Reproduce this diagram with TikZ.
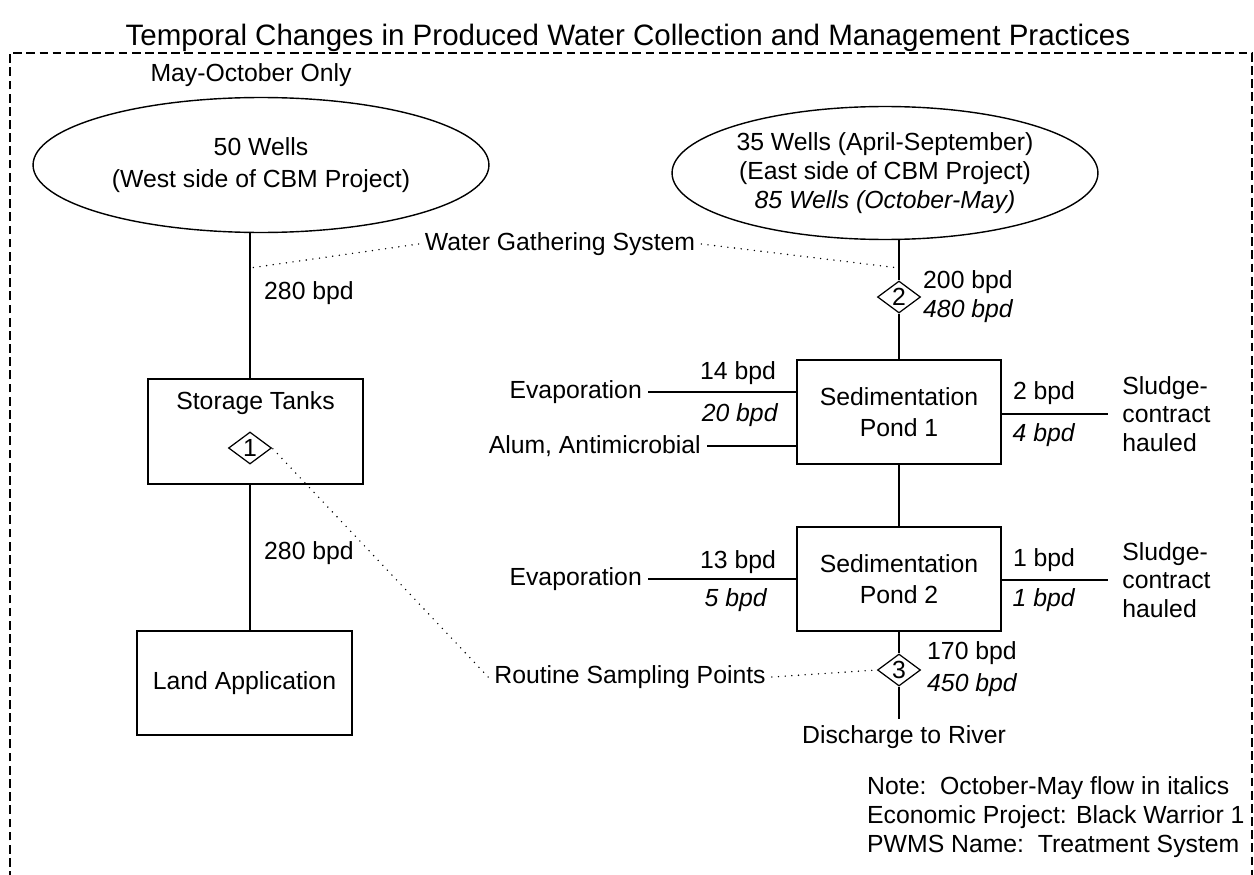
\documentclass[tikz,border=0pt]{standalone}
\usepackage{fontspec}
\setmainfont{Liberation Sans}
\usetikzlibrary{shapes.geometric}

\begin{document}
\begin{tikzpicture}[x=0.02cm,y=-0.02cm,font=\fontsize{14.1}{16.3}\selectfont,
  box/.style={draw,line width=0.8pt,inner sep=0pt,align=center},
  well/.style={draw,ellipse,line width=0.8pt,inner sep=0pt,align=center},
  spot/.style={draw,diamond,line width=0.7pt,inner sep=0pt,aspect=1.35,minimum width=0.86cm,minimum height=0.64cm},
  flow/.style={line width=1.1pt},
  tie/.style={line width=0.9pt,dash pattern=on 0pt off 3.8pt,line cap=round},
  frame/.style={line width=1pt,dash pattern=on 5pt off 2.5pt}]
\useasboundingbox (0,0) rectangle (1254,875);
\node[font=\fontsize{16.8}{19}\selectfont] (title) at (628,38) {Temporal Changes in Produced Water Collection and Management Practices};
\coordinate (fbl) at (10,880);
\coordinate (ftl) at (10,53);
\coordinate (ftr) at (1252,53);
\coordinate (fbr) at (1252,880);
\draw[frame] (fbl) -- (ftl) -- (ftr) -- (fbr);
\node (season) at (251,75) {May-October Only};
\node[well,minimum width=9.12cm,minimum height=2.7cm] (wwest) at (261,165) {50 Wells\\[2pt](West side of CBM Project)};
\node[well,minimum width=8.52cm,minimum height=2.66cm] (weast) at (885,173) {35 Wells (April-September)\\(East side of CBM Project)\\\textit{85 Wells (October-May)}};
\node[box,minimum width=4.3cm,minimum height=2.1cm] (tanks) at (255.5,431.5) {};
\node (tankstxt) at (255.5,403) {Storage Tanks};
\node[spot] (s1) at (250,448) {1};
\node[box,minimum width=4.3cm,minimum height=2.08cm] (land) at (244.5,683) {Land Application};
\node[box,minimum width=4.08cm,minimum height=2.08cm] (pond1) at (899,412) {Sedimentation\\[1pt]Pond 1};
\node[box,minimum width=4.08cm,minimum height=2.08cm] (pond2) at (899,579) {Sedimentation\\[1pt]Pond 2};
\node[spot] (s2) at (899,297) {2};
\node[spot] (s3) at (899,670) {3};
\node (river) at (904,737) {Discharge to River};
\draw[flow] (wwest.south -| s1) -- (tanks.north -| s1);
\draw[flow] (tanks.south -| s1) -- (land.north -| s1);
\draw[flow] (weast.south -| s2) -- (s2.north);
\draw[flow] (s2.south) -- (pond1.north);
\draw[flow] (pond1.south) -- (pond2.north);
\draw[flow] (pond2.south) -- (s3.north);
\draw[flow] (s3.south) -- (s3 |- river.north);
\node[anchor=west] (q1) at (258,293) {280 bpd};
\node[anchor=west] (q2) at (258,553) {280 bpd};
\node[anchor=west] (q3) at (917,282) {200 bpd};
\node[anchor=west] (q4) at (917,311) {\textit{480 bpd}};
\node[anchor=west] (q5) at (921,653) {170 bpd};
\node[anchor=west] (q6) at (921,685) {\textit{450 bpd}};
\node[anchor=east] (evap1) at (648,392) {Evaporation};
\node[anchor=east] (alum) at (707,446) {Alum, Antimicrobial};
\node[anchor=east] (evap2) at (648,579) {Evaporation};
\draw[flow] (evap1.east) -- (evap1.east -| pond1.west);
\draw[flow] (alum.east) -- (alum.east -| pond1.west);
\draw[flow] (evap2.east) -- (evap2.east -| pond2.west);
\node (in1a) at (738,373) {14 bpd};
\node (in1b) at (740,415) {\textit{20 bpd}};
\node (in2a) at (738,562) {13 bpd};
\node (in2b) at (736,600) {\textit{5 bpd}};
\node[anchor=west,align=left,inner sep=8pt] (sludge1) at (1108,414) {Sludge-\\contract\\hauled};
\node[anchor=west,align=left,inner sep=8pt] (sludge2) at (1108,580) {Sludge-\\contract\\hauled};
\draw[flow] (pond1.east |- sludge1.west) -- (sludge1.west);
\draw[flow] (pond2.east |- sludge2.west) -- (sludge2.west);
\node (o1a) at (1044,393) {2 bpd};
\node (o1b) at (1044,435) {\textit{4 bpd}};
\node (o2a) at (1044,560) {1 bpd};
\node (o2b) at (1044,600) {\textit{1 bpd}};
\node (wgs) at (560,244) {Water Gathering System};
\coordinate (gw) at (250,268);
\coordinate (ge) at (899,268);
\draw[tie] (wgs.west) -- (gw);
\draw[tie] (wgs.east) -- (ge);
\node (rsp) at (630,677) {Routine Sampling Points};
\draw[tie] (rsp.east) -- (s3.west);
\draw[tie] (rsp.west) -- (s1.east);
\node[anchor=west,align=left] (note) at (861,817) {Note:\ \ October-May flow in italics\\Economic Project: Black Warrior 1\\PWMS Name:\ \ Treatment System};
\end{tikzpicture}
\end{document}
